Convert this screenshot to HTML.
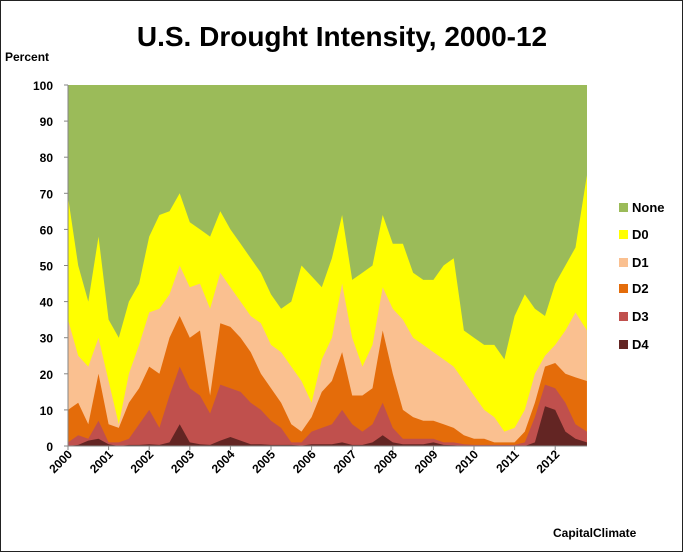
<!DOCTYPE html>
<html><head><meta charset="utf-8"><style>
body{margin:0;background:#fff;}
svg{display:block;font-family:"Liberation Sans",sans-serif;}
</style></head><body>
<svg id="chart" width="683" height="552">
<rect x="0.5" y="0.5" width="682" height="551" fill="#fff" stroke="#222"/>
<text x="342" y="46" text-anchor="middle" font-size="28" font-weight="bold" fill="#000">U.S. Drought Intensity, 2000-12</text>
<text x="5" y="61" font-size="12" font-weight="bold">Percent</text>
<rect x="68" y="85" width="519" height="361" fill="#9bbb59"/>
<g id="areas"></g>
<g id="axes"></g>
<g id="legend"></g>
<text x="553" y="537" font-size="12" font-weight="bold">CapitalClimate</text>
</svg>
<script>
// cumulative percent of area in category or worse, quarterly samples
const dates = [2000,2000.25,2000.5,2000.75,2001,2001.25,2001.5,2001.75,2002,2002.25,2002.5,2002.75,2003,2003.25,2003.5,2003.75,2004,2004.25,2004.5,2004.75,2005,2005.25,2005.5,2005.75,2006,2006.25,2006.5,2006.75,2007,2007.25,2007.5,2007.75,2008,2008.25,2008.5,2008.75,2009,2009.25,2009.5,2009.75,2010,2010.25,2010.5,2010.75,2011,2011.25,2011.5,2011.75,2012,2012.25,2012.5,2012.78];
const d0 = [69,50,40,58,35,30,40,45,58,64,65,70,62,60,58,65,60,56,52,48,42,38,40,50,47,44,52,64,46,48,50,64,56,56,48,46,46,50,52,32,30,28,28,24,36,42,38,36,45,50,55,75];
const d1 = [35,25,22,30,18,6,20,28,37,38,42,50,44,45,38,48,44,40,36,34,28,26,22,18,12,24,30,45,30,22,28,44,38,35,30,28,26,24,22,18,14,10,8,4,5,10,20,25,28,32,37,32];
const d2 = [10,12,6,20,6,5,12,16,22,20,30,36,30,32,14,34,33,30,26,20,16,12,6,4,8,15,18,26,14,14,16,32,20,10,8,7,7,6,5,3,2,2,1,1,1,4,12,22,23,20,19,18];
const d3 = [1,3,2,7,1,1,2,6,10,5,14,22,16,14,9,17,16,15,12,10,7,5,1,1,4,5,6,10,6,4,6,12,5,2,2,2,2,1,1,0.5,0.3,0.3,0.3,0.3,0.3,1,8,17,16,12,6,4];
const d4 = [0,0.3,1.5,2,0.5,0,0.3,0.3,0.5,0.3,1,6,1,0.5,0.3,1.5,2.5,1.5,0.5,0.5,0.3,0.3,0.3,0.1,0.5,0.5,0.5,1,0.3,0.3,1,3,1,0.5,0.5,0.5,1,0.3,0.2,0,0,0,0,0,0,0,1,11,10,4,2,1];
const yTicks = [0,10,20,30,40,50,60,70,80,90,100];
const yearLabels = ["2000","2001","2002","2003","2004","2005","2006","2007","2008","2009","2010","2011","2012"];
const legendNames = ["None","D0","D1","D2","D3","D4"];

const NS="http://www.w3.org/2000/svg";
const X0=68, PXY=40.6, Y0=446, PXP=3.61;
function xs(t){return X0+(t-2000)*PXY;}
function ys(v){return Y0-v*PXP;}
const colors=["#9bbb59","#ffff00","#fac090","#e46c0a","#c0504d","#632523"];
const series=[d0,d1,d2,d3,d4];
const areas=document.getElementById('areas');
series.forEach((s,k)=>{
  let d="M"+xs(dates[0])+","+Y0;
  s.forEach((v,i)=>{d+=" L"+xs(dates[i]).toFixed(1)+","+ys(v).toFixed(1);});
  d+=" L"+xs(dates[dates.length-1]).toFixed(1)+","+Y0+" Z";
  const p=document.createElementNS(NS,'path');
  p.setAttribute('d',d);p.setAttribute('fill',colors[k+1]);
  
  
  areas.appendChild(p);
});
const axes=document.getElementById('axes');
function line(x1,y1,x2,y2,name){const l=document.createElementNS(NS,'line');
 l.setAttribute('x1',x1);l.setAttribute('y1',y1);l.setAttribute('x2',x2);l.setAttribute('y2',y2);
 l.setAttribute('stroke','#868686');
 
 
 axes.appendChild(l);}
line(68,85,68,446,'y-axis-line');
line(68,446,587,446,'x-axis-line');
yTicks.forEach(v=>{
  line(64,ys(v),68,ys(v),'y-tick');
  const t=document.createElementNS(NS,'text');
  t.setAttribute('x',53);t.setAttribute('y',ys(v)+5);t.setAttribute('text-anchor','end');
  t.setAttribute('font-size','12');t.setAttribute('font-weight','bold');t.textContent=v;
  
  
  axes.appendChild(t);
});
yearLabels.forEach((y,i)=>{
  const x=xs(2000+i);
  line(x,446,x,450,'x-tick');
  const t=document.createElementNS(NS,'text');
  t.setAttribute('transform','translate('+(x+5)+',455) rotate(-45)');
  t.setAttribute('text-anchor','end');
  t.setAttribute('font-size','12');t.setAttribute('font-weight','bold');t.textContent=y;
  
  
  axes.appendChild(t);
});
const leg=document.getElementById('legend');
const ly=[207,234,262,288,316,344];
legendNames.forEach((n,i)=>{
  const r=document.createElementNS(NS,'rect');
  r.setAttribute('x',619);r.setAttribute('y',ly[i]-4);r.setAttribute('width',9);r.setAttribute('height',9);
  r.setAttribute('fill',colors[i]);
  
  
  leg.appendChild(r);
  const t=document.createElementNS(NS,'text');
  t.setAttribute('x',632);t.setAttribute('y',ly[i]+5);
  t.setAttribute('font-size','13');t.setAttribute('font-weight','bold');t.textContent=n;
  
  
  leg.appendChild(t);
});
</script>
</body></html>
